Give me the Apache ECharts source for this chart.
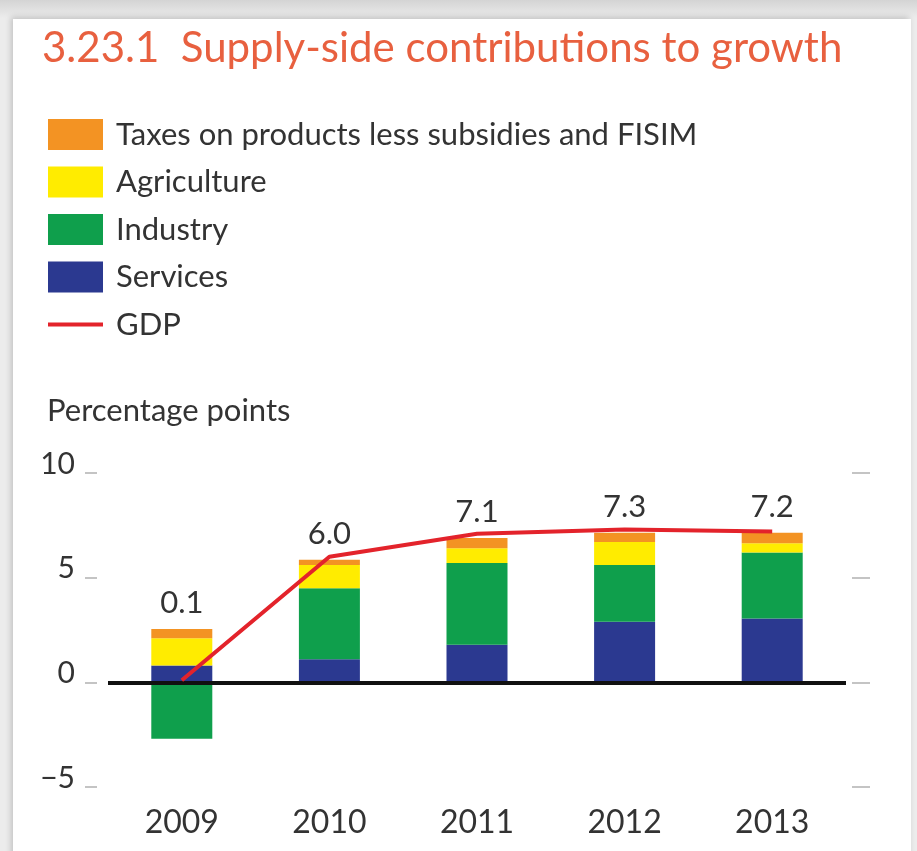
<!DOCTYPE html>
<html>
<head>
<meta charset="utf-8">
<script src="https://cdn.jsdelivr.net/npm/echarts@6/dist/echarts.min.js"></script>
<style>
  html, body { margin: 0; padding: 0; width: 917px; height: 851px; overflow: hidden; }
  body { background: linear-gradient(to bottom, #d4d4d4 0px, #ececec 18px, #ececec 100%); }
  #frame { position: absolute; left: 13px; top: 19px; width: 898px; height: 840px; background: #fff;
           box-shadow: -2px -2px 6px rgba(0,0,0,0.18); }
  #chart { position: absolute; left: 0; top: 0; width: 917px; height: 851px; }
</style>
</head>
<body>
<div id="frame"></div>
<div id="chart"></div>
<script>
const years = ['2009', '2010', '2011', '2012', '2013'];
const services = [0.8, 1.1, 1.8, 2.9, 3.05];
const industry = [-2.7, 3.4, 3.9, 2.7, 3.15];
const agriculture = [1.3, 1.1, 0.7, 1.1, 0.45];
const taxes = [0.45, 0.25, 0.5, 0.45, 0.5];
const gdp = [0.1, 6.0, 7.1, 7.3, 7.2];
const yTicks = { min: -5, max: 10, interval: 5 };

const FONT = 'Lato';
const TXT = '#333333';
const C = { taxes: '#f39323', agri: '#ffec00', ind: '#0f9f4c', serv: '#2b3990', gdp: '#e3232b' };
const N_TAX = 'Taxes on products less subsidies and FISIM';

const chart = echarts.init(document.getElementById('chart'), null, { renderer: 'canvas' });

const barBase = { type: 'bar', stack: 'total', barWidth: 61, z: 2 };

chart.setOption({
  backgroundColor: 'transparent',
  textStyle: { fontFamily: FONT },
  title: [
    {
      text: '3.23.1  Supply-side contributions to growth',
      left: 37, top: 22,
      textStyle: { fontFamily: FONT, fontSize: 42, fontWeight: 'normal', color: '#e8603f' }
    },
    {
      text: 'Percentage points',
      left: 42, top: 390,
      textStyle: { fontFamily: FONT, fontSize: 31, fontWeight: 'normal', color: TXT }
    }
  ],
  legend: {
    orient: 'vertical',
    left: 43, top: 114,
    itemWidth: 55, itemHeight: 31, itemGap: 16.5,
    textStyle: { fontFamily: FONT, fontSize: 31, color: TXT, padding: [0, 0, 0, 8] },
    data: [
      { name: N_TAX, icon: 'rect' },
      { name: 'Agriculture', icon: 'rect' },
      { name: 'Industry', icon: 'rect' },
      { name: 'Services', icon: 'rect' },
      { name: 'GDP', icon: 'path://M0,0 L55,0 L55,4 L0,4 Z', itemStyle: { color: C.gdp } }
    ],
    selectedMode: false
  },
  grid: { left: 108, right: 71, top: 473, bottom: 64, containLabel: false },
  xAxis: {
    type: 'category',
    data: years,
    axisLine: { show: false },
    axisTick: { show: false },
    axisLabel: { fontFamily: FONT, fontSize: 32, color: TXT, margin: 20 }
  },
  yAxis: [
    {
      type: 'value', position: 'left', offset: 11,
      min: yTicks.min, max: yTicks.max, interval: yTicks.interval,
      splitLine: { show: false },
      axisLine: { show: false },
      axisTick: { show: true, length: 12, lineStyle: { color: '#c4c4c4', width: 2 } },
      axisLabel: {
        fontFamily: FONT, fontSize: 30, color: TXT, margin: 22,
        verticalAlign: 'bottom', lineHeight: 18,
        formatter: v => (v < 0 ? '\u2212' + Math.abs(v) : String(v))
      }
    },
    {
      type: 'value', position: 'right', offset: 6,
      min: yTicks.min, max: yTicks.max, interval: yTicks.interval,
      splitLine: { show: false },
      axisLine: { show: false },
      axisTick: { show: true, length: 18, lineStyle: { color: '#c4c4c4', width: 2 } },
      axisLabel: { show: false }
    }
  ],
  series: [
    Object.assign({}, barBase, {
      name: 'Services', data: services,
      itemStyle: { color: C.serv },
      markLine: {
        silent: true, symbol: 'none', z: 5,
        label: { show: false },
        lineStyle: { color: '#111111', width: 4, type: 'solid' },
        data: [{ yAxis: 0 }]
      }
    }),
    Object.assign({}, barBase, { name: 'Industry', data: industry, itemStyle: { color: C.ind } }),
    Object.assign({}, barBase, { name: 'Agriculture', data: agriculture, itemStyle: { color: C.agri } }),
    Object.assign({}, barBase, {
      name: N_TAX, data: taxes,
      itemStyle: { color: C.taxes },
      label: {
        show: true, position: 'top', distance: 10,
        fontFamily: FONT, fontSize: 31, color: TXT,
        formatter: p => gdp[p.dataIndex].toFixed(1)
      }
    }),
    {
      name: 'GDP', type: 'line', data: gdp,
      symbol: 'none', z: 10,
      lineStyle: { color: C.gdp, width: 4 },
      itemStyle: { color: C.gdp }
    }
  ]
});
</script>
</body>
</html>
